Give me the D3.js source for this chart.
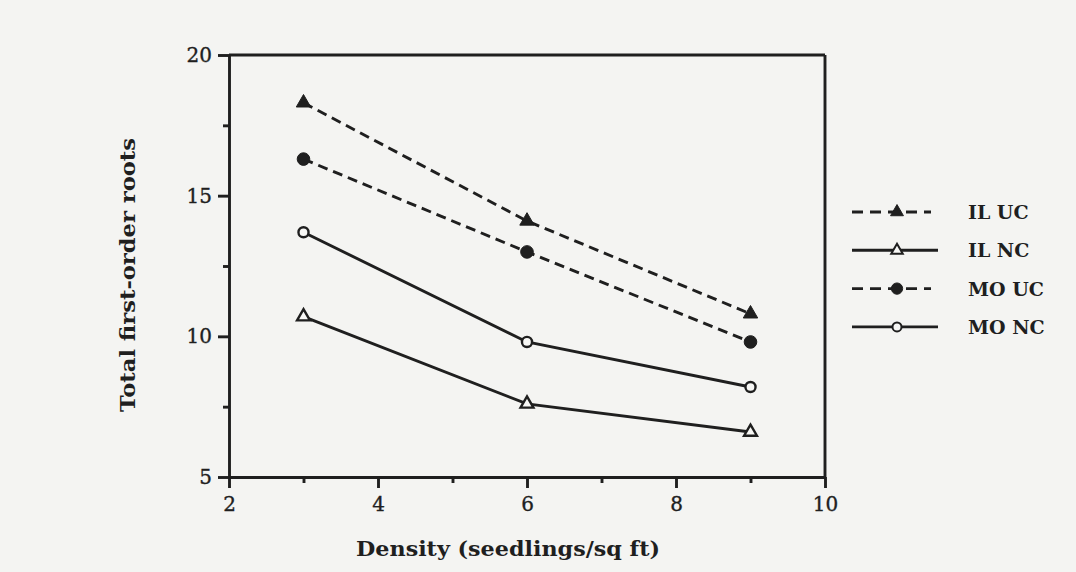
<!DOCTYPE html>
<html>
<head>
<meta charset="utf-8">
<script src="https://cdn.jsdelivr.net/npm/d3@7"></script>
<style>
  html, body { margin: 0; padding: 0; background: #f4f4f2; }
  svg { display: block; }
</style>
</head>
<body>
<svg id="chart" width="1076" height="572"></svg>
<script>
// ---------------- data ----------------
const densities = [3, 6, 9];
const seriesNames = ["IL UC", "IL NC", "MO UC", "MO NC"];
const ilUC = [18.3, 14.1, 10.8];
const ilNC = [10.7, 7.6, 6.6];
const moUC = [16.3, 13.0, 9.8];
const moNC = [13.7, 9.8, 8.2];
const xTicks = [2, 4, 6, 8, 10];
const xMinorTicks = [3, 5, 7, 9];
const yTicks = [5, 10, 15, 20];
const yMinorTicks = [7.5, 12.5, 17.5];
const xDomain = [2, 10];
const yDomain = [5, 20];
const xTitle = "Density (seedlings/sq ft)";
const yTitle = "Total first-order roots";

// ---------------- setup ----------------
const svg = d3.select("#chart");
const W = 1076, H = 572;
const ink = "#1f1f1f";
const serif = "'DejaVu Serif', 'Liberation Serif', serif";
const sw = 2.9;

svg.append("rect").attr("width", W).attr("height", H).attr("fill", "#f4f4f2");

const x = d3.scaleLinear().domain(xDomain).range([229, 825]);
const y = d3.scaleLinear().domain(yDomain).range([477, 55]);

// ---------------- frame (top + right) ----------------
svg.append("line")
  .attr("x1", x(xDomain[0])).attr("x2", x(xDomain[1]))
  .attr("y1", y(yDomain[1])).attr("y2", y(yDomain[1]))
  .attr("stroke", ink).attr("stroke-width", sw);
svg.append("line")
  .attr("x1", x(xDomain[1])).attr("x2", x(xDomain[1]))
  .attr("y1", y(yDomain[0])).attr("y2", y(yDomain[1]))
  .attr("stroke", ink).attr("stroke-width", sw);

// ---------------- axes ----------------
function styleAxis(g) {
  g.select(".domain").attr("stroke", ink).attr("stroke-width", sw);
  g.selectAll(".tick line").attr("stroke", ink).attr("stroke-width", sw);
  g.selectAll(".tick text").attr("fill", ink)
    .attr("stroke", ink).attr("stroke-width", 0.35)
    .style("font-family", serif).style("font-size", "20px");
}

const xAxis = svg.append("g").attr("transform", `translate(0,${y(yDomain[0])})`)
  .call(d3.axisBottom(x).tickValues(xTicks).tickSize(11).tickSizeOuter(0)
    .tickPadding(9).tickFormat(d3.format("d")));
styleAxis(xAxis);
const xMinor = svg.append("g").attr("transform", `translate(0,${y(yDomain[0])})`)
  .call(d3.axisBottom(x).tickValues(xMinorTicks).tickSize(6).tickFormat(""));
xMinor.select(".domain").remove();
styleAxis(xMinor);

const yAxis = svg.append("g").attr("transform", `translate(${x(xDomain[0])},0)`)
  .call(d3.axisLeft(y).tickValues(yTicks).tickSize(11).tickSizeOuter(0)
    .tickPadding(6).tickFormat(d3.format("d")));
styleAxis(yAxis);
const yMinor = svg.append("g").attr("transform", `translate(${x(xDomain[0])},0)`)
  .call(d3.axisLeft(y).tickValues(yMinorTicks).tickSize(6).tickFormat(""));
yMinor.select(".domain").remove();
styleAxis(yMinor);

// axis titles
svg.append("text")
  .attr("x", 508).attr("y", 556)
  .attr("text-anchor", "middle").attr("fill", ink)
  .attr("textLength", 304).attr("lengthAdjust", "spacingAndGlyphs")
  .style("font-family", serif).style("font-size", "20px").style("font-weight", "bold")
  .text(xTitle);
svg.append("text")
  .attr("transform", `translate(135,${(y(yDomain[0]) + y(yDomain[1])) / 2 + 9}) rotate(-90)`)
  .attr("text-anchor", "middle").attr("fill", ink)
  .attr("textLength", 274).attr("lengthAdjust", "spacingAndGlyphs")
  .style("font-family", serif).style("font-size", "20px").style("font-weight", "bold")
  .text(yTitle);

// ---------------- series ----------------
const seriesValues = [ilUC, ilNC, moUC, moNC];
const seriesDash = ["10,6", null, "10,6", null];
const seriesShape = [d3.symbolTriangle, d3.symbolTriangle, d3.symbolCircle, d3.symbolCircle];
const seriesFilled = [true, false, true, false];
const seriesSize = [90, 72, 125, 80];

const line = d3.line().x(d => x(d[0])).y(d => y(d[1]));

seriesValues.forEach((vals, i) => {
  const pts = densities.map((d, j) => [d, vals[j]]);
  svg.append("path")
    .attr("d", line(pts))
    .attr("fill", "none").attr("stroke", ink).attr("stroke-width", sw)
    .attr("stroke-dasharray", seriesDash[i]);
  svg.append("g").selectAll("path").data(pts).join("path")
    .attr("transform", d => `translate(${x(d[0])},${y(d[1])})`)
    .attr("d", d3.symbol().type(seriesShape[i]).size(seriesSize[i]))
    .attr("fill", seriesFilled[i] ? ink : "#f7f7f5")
    .attr("stroke", ink).attr("stroke-width", seriesFilled[i] ? 1 : 2.4);
});

// ---------------- legend ----------------
const legend = svg.append("g");
seriesNames.forEach((name, i) => {
  const ly = 212 + i * 38.3;
  const dashed = !!seriesDash[i];
  legend.append("line")
    .attr("x1", 852).attr("x2", dashed ? 931 : 938)
    .attr("y1", ly).attr("y2", ly)
    .attr("stroke", ink).attr("stroke-width", sw)
    .attr("stroke-dasharray", dashed ? "11,7" : null);
  legend.append("path")
    .attr("transform", `translate(897,${ly})`)
    .attr("d", d3.symbol().type(seriesShape[i]).size(seriesSize[i] * 0.8))
    .attr("fill", seriesFilled[i] ? ink : "#f7f7f5")
    .attr("stroke", ink).attr("stroke-width", seriesFilled[i] ? 1 : 2);
  legend.append("text")
    .attr("x", 968).attr("y", ly + 7)
    .attr("fill", ink)
    .style("font-family", serif).style("font-size", "19px").style("font-weight", "bold")
    .text(name);
});
</script>
</body>
</html>
